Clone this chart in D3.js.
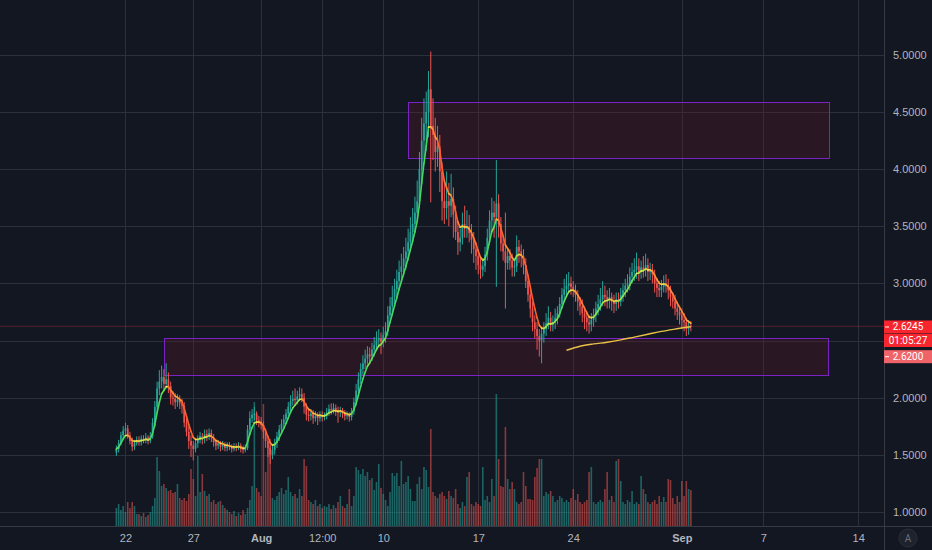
<!DOCTYPE html>
<html>
<head>
<meta charset="utf-8">
<script src="https://cdn.jsdelivr.net/npm/d3@7"></script>
<style>
  body { margin: 0; background: #131722; }
  svg { display: block; font-family: Roboto, "Liberation Sans", sans-serif; }
</style>
</head>
<body>
<script>
// 4h candles, first bar Jul 21 08:00, last bar Sep 1 16:00
var startTime = Date.UTC(2020, 6, 21, 8);
var barHours = 4;
var firstOpen = 1.52;

var closes = [
  1.55,1.60,1.67,1.71,1.73,1.67,1.62,1.57,1.60,1.63,
  1.61,1.64,1.63,1.65,1.62,1.66,1.78,1.92,2.08,2.14,
  2.18,2.12,2.16,2.10,2.00,1.99,1.96,1.98,1.95,1.93,
  1.78,1.70,1.62,1.58,1.55,1.60,1.63,1.66,1.64,1.68,
  1.66,1.69,1.65,1.61,1.58,1.60,1.57,1.59,1.56,1.58,
  1.57,1.55,1.57,1.56,1.58,1.55,1.54,1.56,1.72,1.82,
  1.85,1.86,1.80,1.79,1.76,1.70,1.62,1.56,1.50,1.54,
  1.60,1.66,1.72,1.77,1.81,1.86,1.92,1.97,1.99,1.98,
  2.01,2.03,2.00,1.92,1.85,1.84,1.86,1.82,1.84,1.82,
  1.85,1.83,1.84,1.87,1.90,1.89,1.91,1.88,1.87,1.89,
  1.86,1.84,1.85,1.83,1.88,1.96,2.06,2.16,2.25,2.30,
  2.34,2.38,2.36,2.42,2.46,2.50,2.52,2.49,2.55,2.58,
  2.72,2.80,2.88,2.95,3.02,3.10,3.15,3.22,3.28,3.36,
  3.45,3.52,3.62,3.72,4.00,4.25,4.40,4.50,4.70,4.38,
  4.30,4.15,4.20,3.98,3.72,3.66,3.72,3.68,3.74,3.60,
  3.45,3.36,3.40,3.52,3.48,3.50,3.44,3.38,3.30,3.24,
  3.16,3.12,3.15,3.25,3.40,3.55,3.62,3.58,3.70,3.52,
  3.35,3.28,3.18,3.24,3.20,3.14,3.15,3.32,3.28,3.24,
  3.16,3.02,2.90,2.78,2.66,2.60,2.54,2.50,2.56,2.60,
  2.65,2.70,2.64,2.66,2.70,2.74,2.82,2.90,2.95,2.98,
  3.00,2.97,2.94,2.90,2.84,2.80,2.74,2.70,2.66,2.64,
  2.68,2.72,2.78,2.82,2.86,2.90,2.88,2.86,2.88,2.84,
  2.82,2.86,2.84,2.90,2.94,2.98,3.00,3.06,3.10,3.12,
  3.15,3.10,3.14,3.12,3.16,3.10,3.12,3.08,3.00,2.96,
  2.94,2.97,3.00,2.98,2.94,2.88,2.84,2.78,2.75,2.72,
  2.68,2.66,2.60,2.63,2.6245
];

var highs = [
  1.58,1.63,1.70,1.75,1.78,1.76,1.70,1.65,1.63,1.66,
  1.66,1.67,1.67,1.69,1.67,1.70,1.82,1.97,2.14,2.24,
  2.28,2.25,2.30,2.22,2.14,2.06,2.04,2.03,2.02,1.99,
  1.96,1.84,1.75,1.67,1.62,1.63,1.67,1.70,1.69,1.72,
  1.72,1.73,1.72,1.68,1.64,1.63,1.62,1.62,1.61,1.61,
  1.61,1.59,1.60,1.60,1.61,1.60,1.58,1.59,1.76,1.88,
  1.90,1.92,1.88,1.84,1.83,1.79,1.73,1.66,1.59,1.58,
  1.64,1.70,1.76,1.81,1.85,1.90,1.96,2.02,2.06,2.08,
  2.06,2.09,2.08,2.04,1.95,1.90,1.90,1.89,1.88,1.87,
  1.88,1.88,1.87,1.91,1.94,1.95,1.95,1.94,1.92,1.92,
  1.91,1.89,1.88,1.87,1.91,2.00,2.12,2.22,2.30,2.37,
  2.42,2.45,2.44,2.48,2.53,2.58,2.60,2.57,2.62,2.66,
  2.80,2.88,2.98,3.04,3.12,3.20,3.26,3.32,3.40,3.48,
  3.58,3.66,3.76,3.90,4.15,4.45,4.62,4.68,4.86,5.03,
  4.62,4.45,4.38,4.30,4.06,3.92,3.98,3.88,3.96,3.84,
  3.68,3.55,3.48,3.62,3.68,3.64,3.60,3.52,3.45,3.36,
  3.30,3.22,3.22,3.32,3.48,3.64,3.75,3.72,4.08,3.78,
  3.58,3.42,3.62,3.30,3.30,3.26,3.22,3.42,3.38,3.34,
  3.30,3.22,3.06,2.96,2.84,2.72,2.66,2.60,2.62,2.66,
  2.74,2.80,2.75,2.72,2.78,2.80,2.88,2.96,3.04,3.08,
  3.10,3.06,3.02,2.99,2.94,2.88,2.86,2.80,2.76,2.72,
  2.74,2.78,2.84,2.90,2.96,3.02,2.98,2.94,2.96,2.92,
  2.90,2.92,2.92,2.96,3.00,3.04,3.08,3.14,3.18,3.22,
  3.27,3.22,3.20,3.24,3.26,3.22,3.18,3.17,3.12,3.05,
  3.02,3.03,3.07,3.08,3.04,2.98,2.92,2.90,2.84,2.80,
  2.78,2.74,2.70,2.68,2.67
];

var lows = [
  1.49,1.52,1.58,1.64,1.68,1.64,1.59,1.53,1.54,1.58,
  1.58,1.58,1.60,1.60,1.59,1.60,1.64,1.74,1.88,2.02,
  2.08,2.06,2.08,2.04,1.94,1.93,1.90,1.92,1.90,1.86,
  1.74,1.66,1.55,1.48,1.45,1.52,1.56,1.60,1.59,1.60,
  1.62,1.63,1.61,1.57,1.54,1.55,1.53,1.54,1.53,1.53,
  1.54,1.52,1.53,1.53,1.54,1.52,1.51,1.52,1.54,1.68,
  1.78,1.80,1.76,1.74,1.72,1.64,1.56,1.48,1.42,1.46,
  1.50,1.56,1.62,1.68,1.74,1.77,1.82,1.88,1.93,1.93,
  1.94,1.97,1.96,1.86,1.80,1.79,1.80,1.77,1.79,1.76,
  1.79,1.79,1.80,1.81,1.84,1.85,1.86,1.84,1.78,1.83,
  1.82,1.80,1.81,1.79,1.80,1.85,1.93,2.02,2.12,2.20,
  2.25,2.29,2.30,2.32,2.36,2.41,2.44,2.38,2.44,2.48,
  2.54,2.66,2.72,2.80,2.86,2.94,3.02,3.06,3.12,3.20,
  3.28,3.36,3.44,3.55,3.66,3.88,4.10,4.16,4.28,3.71,
  4.08,3.98,4.02,3.80,3.55,3.52,3.56,3.50,3.58,3.40,
  3.38,3.25,3.28,3.34,3.40,3.40,3.36,3.26,3.18,3.12,
  3.08,3.04,3.06,3.10,3.20,3.34,3.46,3.40,2.97,3.40,
  3.28,3.20,2.78,3.12,3.12,3.06,3.06,3.10,3.18,3.14,
  3.08,2.96,2.84,2.70,2.58,2.52,2.42,2.36,2.30,2.48,
  2.54,2.60,2.58,2.58,2.60,2.64,2.70,2.78,2.84,2.88,
  2.92,2.90,2.88,2.84,2.76,2.72,2.66,2.60,2.58,2.56,
  2.58,2.62,2.66,2.72,2.76,2.80,2.80,2.78,2.78,2.76,
  2.74,2.76,2.78,2.80,2.84,2.88,2.92,2.94,3.00,3.02,
  3.04,3.02,3.04,3.05,3.06,3.02,3.03,3.00,2.92,2.88,
  2.88,2.88,2.92,2.92,2.86,2.80,2.78,2.72,2.68,2.64,
  2.60,2.58,2.54,2.55,2.58
];

// volume in millions
var volumes = [
  1.8,2.2,1.6,2.0,1.4,2.4,1.8,2.4,2.0,1.2,
  1.2,1.0,1.3,0.9,1.1,1.4,2.0,2.8,6.9,5.5,
  4.0,4.2,3.8,3.5,3.6,3.3,3.4,4.2,2.8,2.6,
  2.8,2.5,3.2,5.7,4.7,3.0,7.0,3.4,5.2,3.5,
  3.0,3.2,2.4,2.6,2.2,2.4,2.5,2.1,1.8,1.6,
  1.4,1.2,1.5,1.0,1.3,1.1,1.6,1.2,1.8,2.6,
  4.0,12.4,3.8,3.4,3.0,12.2,5.4,8.0,8.7,2.8,
  2.6,3.0,3.4,3.8,3.2,3.6,4.9,3.4,3.0,3.2,
  2.8,3.7,3.0,6.7,6.0,2.6,2.4,2.2,2.6,2.0,
  2.2,1.8,2.0,1.9,2.2,1.7,2.1,1.8,2.4,3.0,
  2.0,1.8,2.2,3.7,2.0,3.0,5.9,5.6,5.2,5.7,
  5.0,5.4,4.6,4.8,3.6,4.4,6.2,3.8,3.2,2.6,
  2.0,3.4,5.3,5.0,5.3,4.0,6.5,4.2,4.4,5.0,
  3.7,2.5,2.5,4.2,4.9,3.7,5.9,5.6,3.9,9.7,
  3.4,3.0,2.8,3.2,3.4,3.0,2.7,3.5,3.0,2.8,
  3.7,2.2,1.8,2.4,2.0,4.9,5.4,2.2,2.0,2.4,
  2.2,2.0,5.9,2.6,3.0,2.4,4.7,3.0,13.2,6.7,
  4.0,3.9,9.9,4.7,3.7,4.4,3.7,2.4,2.2,2.4,
  5.4,4.0,2.7,2.7,2.6,4.9,5.8,6.7,6.7,3.0,
  3.4,3.2,3.5,3.0,2.4,2.6,3.0,2.8,2.4,2.6,
  2.4,2.8,3.7,2.6,3.2,2.4,2.2,2.4,2.6,5.4,
  5.9,2.4,2.2,2.4,2.6,2.4,3.7,5.4,2.6,3.0,
  2.4,6.5,6.7,4.5,2.4,2.2,2.6,2.4,3.5,2.2,
  2.4,2.2,5.0,3.7,3.2,2.4,2.2,2.4,2.6,2.2,
  3.0,2.4,2.9,2.4,4.7,4.6,2.8,2.2,3.0,2.4,
  4.5,3.0,4.5,3.7,3.6
];

// long average (yellow), one point per day
var longMaBars = [199, 205, 211, 217, 223, 229, 235, 241, 247, 253, 254];
var longMaValues = [2.415, 2.45, 2.47, 2.485, 2.505, 2.53, 2.555, 2.58, 2.60, 2.618, 2.62];

var priceTicks = [1.0, 1.5, 2.0, 2.5, 3.0, 3.5, 4.0, 4.5, 5.0];
var timeTicks = [
  Date.UTC(2020, 6, 22), Date.UTC(2020, 6, 27), Date.UTC(2020, 7, 1),
  Date.UTC(2020, 7, 5, 12), Date.UTC(2020, 7, 10), Date.UTC(2020, 7, 17),
  Date.UTC(2020, 7, 24), Date.UTC(2020, 8, 1), Date.UTC(2020, 8, 7),
  Date.UTC(2020, 8, 14)
];
var timeTickLabels = ["22", "27", "Aug", "12:00", "10", "17", "24", "Sep", "7", "14"];
var boldLabels = ["Aug", "Sep"];

// drawn zones: [start, end, top price, bottom price]
var zones = [
  [Date.UTC(2020, 7, 11, 19), Date.UTC(2020, 8, 11, 19), 4.586, 4.095],
  [Date.UTC(2020, 6, 24, 20), Date.UTC(2020, 8, 11, 19), 2.524, 2.204]
];

var emaPeriod = 5;

var lastPrice = 2.6245;
var countdown = "01:05:27";
var maLabel = "2.6200";

// visible ranges
var timeDomain = [Date.UTC(2020, 6, 12, 18, 10), Date.UTC(2020, 8, 15, 21, 36)];
var priceDomain = [0.8757, 5.4816];

window.onload = function() {
    var w = 932, h = 550;
    var paneR = 884, paneB = 526;

    var svg = d3.select("body").append("svg")
        .attr("width", w)
        .attr("height", h)
        .style("background-color", "#131722");

    var x = d3.scaleUtc().domain(timeDomain).range([0, paneR]);
    var y = d3.scaleLinear().domain(priceDomain).range([paneB, 0]);
    var vy = d3.scaleLinear().domain([0, d3.max(volumes)]).range([paneB, paneB - 132]);

    var barMs = barHours * 3600 * 1000;
    var bars = closes.map(function(c, i) {
        var o = i ? closes[i - 1] : firstOpen;
        return {
            t: startTime + i * barMs,
            o: o, c: c,
            h: Math.max(highs[i], o, c),
            l: Math.min(lows[i], o, c),
            v: volumes[i],
            up: c >= o
        };
    });

    // exponential average of the closes
    var k = 2 / (emaPeriod + 1), e = closes[0];
    var ema = closes.map(function(c, i) { e = i ? c * k + e * (1 - k) : c; return e; });

    svg.append("defs").append("clipPath").attr("id", "pane")
        .append("rect").attr("width", paneR).attr("height", paneB);

    //grid
    var grid = svg.append("g").attr("class", "grid");
    grid.selectAll(".hgrid").data(priceTicks).enter().append("line")
        .attr("x1", 0).attr("x2", paneR)
        .attr("y1", function(d) { return Math.round(y(d)) + 0.5; })
        .attr("y2", function(d) { return Math.round(y(d)) + 0.5; })
        .style("stroke", "#2c303b");
    grid.selectAll(".vgrid").data(timeTicks).enter().append("line")
        .attr("y1", 0).attr("y2", paneB)
        .attr("x1", function(d) { return Math.round(x(d)) + 0.5; })
        .attr("x2", function(d) { return Math.round(x(d)) + 0.5; })
        .style("stroke", "#2c303b");

    var pane = svg.append("g").attr("clip-path", "url(#pane)");

    //zones
    pane.selectAll(".zone").data(zones).enter().append("rect")
        .attr("x", function(d) { return Math.round(x(d[0])) + 0.5; })
        .attr("y", function(d) { return Math.round(y(d[2])) + 0.5; })
        .attr("width", function(d) { return Math.round(x(d[1]) - x(d[0])); })
        .attr("height", function(d) { return Math.round(y(d[3]) - y(d[2])); })
        .style("fill", "rgba(105,22,40,0.26)")
        .style("stroke", "#7a22c4")
        .style("stroke-width", 1);

    //last price line
    pane.append("line")
        .attr("x1", 0).attr("x2", paneR)
        .attr("y1", y(lastPrice)).attr("y2", y(lastPrice))
        .style("stroke", "rgba(242,54,69,0.3)");

    //volume
    var bw = x(startTime + barMs) - x(startTime);
    pane.selectAll(".vol").data(bars).enter().append("rect")
        .attr("x", function(d) { return x(d.t) - bw * 0.35; })
        .attr("width", bw * 0.7)
        .attr("y", function(d) { return vy(d.v); })
        .attr("height", function(d) { return paneB - vy(d.v); })
        .style("fill", function(d) { return d.up ? "rgba(38,166,154,0.55)" : "rgba(239,83,80,0.55)"; });

    //candles
    var candle = pane.selectAll(".candle").data(bars).enter().append("g");
    candle.append("line")
        .attr("x1", function(d) { return x(d.t); })
        .attr("x2", function(d) { return x(d.t); })
        .attr("y1", function(d) { return y(d.h); })
        .attr("y2", function(d) { return y(d.l); })
        .style("stroke", function(d) { return d.up ? "#26a69a" : "#ef5350"; })
        .style("stroke-width", 1);
    candle.append("rect")
        .attr("x", function(d) { return x(d.t) - bw * 0.38; })
        .attr("width", bw * 0.76)
        .attr("y", function(d) { return y(Math.max(d.o, d.c)); })
        .attr("height", function(d) { return Math.max(1, Math.abs(y(d.o) - y(d.c))); })
        .style("fill", function(d) { return d.up ? "#26a69a" : "#ef5350"; });

    //long average
    pane.append("path").datum(longMaBars)
        .attr("d", d3.line()
            .curve(d3.curveMonotoneX)
            .x(function(b) { return x(bars[b].t); })
            .y(function(b, i) { return y(longMaValues[i]); }))
        .style("fill", "none")
        .style("stroke", "#e9c046")
        .style("stroke-width", 1.4);

    //short average coloured by slope
    var slopeColor = d3.scaleLinear()
        .domain([-0.02, -0.006, 0, 0.006, 0.02])
        .range(["#ff5f2a", "#ffa83a", "#f2e24e", "#a4e74a", "#45d760"])
        .clamp(true);
    var segs = d3.range(1, bars.length).map(function(i) {
        return { a: i - 1, b: i, s: (ema[i] - ema[i - 1]) / ema[i - 1] };
    });
    pane.selectAll(".ema").data(segs).enter().append("line")
        .attr("x1", function(d) { return x(bars[d.a].t); })
        .attr("y1", function(d) { return y(ema[d.a]); })
        .attr("x2", function(d) { return x(bars[d.b].t); })
        .attr("y2", function(d) { return y(ema[d.b]); })
        .style("stroke", function(d) { return slopeColor(d.s); })
        .style("stroke-width", 1.6)
        .style("stroke-linecap", "round");

    //separators
    svg.append("line").attr("x1", paneR + 0.5).attr("x2", paneR + 0.5).attr("y1", 0).attr("y2", h)
        .style("stroke", "#363a45");
    svg.append("line").attr("x1", 0).attr("x2", w).attr("y1", paneB + 0.5).attr("y2", paneB + 0.5)
        .style("stroke", "#363a45");

    //price labels on the axis
    var tags = [
        { text: lastPrice.toFixed(4), y: y(lastPrice) + 0.7, fill: "#f7262e", tick: true },
        { text: countdown, y: y(lastPrice) + 14.2, fill: "#f7262e", tick: false },
        { text: maLabel, y: y(lastPrice) + 30.4, fill: "#f06469", tick: true }
    ];

    //price axis, labels hidden where the tags cover them
    var yAxis = svg.append("g")
        .attr("transform", "translate(" + paneR + ",0)")
        .call(d3.axisRight(y).tickValues(priceTicks).tickFormat(d3.format(".4f")).tickSize(0).tickPadding(9));
    yAxis.select(".domain").remove();
    yAxis.selectAll("text").style("fill", "#b2b5be").style("font-size", "11px");
    yAxis.selectAll(".tick").filter(function(d) {
        return tags.some(function(t) { return Math.abs(t.y - y(d)) < 12; });
    }).remove();

    //time axis
    var xAxis = svg.append("g")
        .attr("transform", "translate(0," + paneB + ")")
        .call(d3.axisBottom(x).tickValues(timeTicks).tickSize(0).tickPadding(8)
            .tickFormat(function(d, i) { return timeTickLabels[i]; }));
    xAxis.select(".domain").remove();
    xAxis.selectAll("text")
        .style("fill", "#b2b5be").style("font-size", "11px")
        .style("font-weight", function(d, i) { return boldLabels.indexOf(timeTickLabels[i]) >= 0 ? "bold" : "normal"; });

    var tag = svg.selectAll(".tag").data(tags).enter().append("g")
        .attr("transform", function(d) { return "translate(" + paneR + "," + d.y + ")"; });
    tag.append("rect")
        .attr("x", 0).attr("y", -6.5).attr("width", w - paneR).attr("height", 13)
        .style("fill", function(d) { return d.fill; });
    tag.filter(function(d) { return d.tick; }).append("line")
        .attr("x1", 1).attr("x2", 5).attr("y1", 0).attr("y2", 0)
        .style("stroke", "#fff");
    tag.append("text")
        .attr("x", 24).attr("y", 0).attr("dy", "0.34em")
        .attr("text-anchor", "middle")
        .style("fill", "#fff").style("font-size", "10px")
        .text(function(d) { return d.text; });

    //auto scale button
    svg.append("circle").attr("cx", 908).attr("cy", 538).attr("r", 9)
        .style("fill", "#1e222d").style("stroke", "#2a2e39");
    svg.append("text").attr("x", 908).attr("y", 538).attr("dy", "0.35em")
        .attr("text-anchor", "middle")
        .style("fill", "#6a6d78").style("font-size", "10px")
        .text("A");
};
</script>
</body>
</html>
